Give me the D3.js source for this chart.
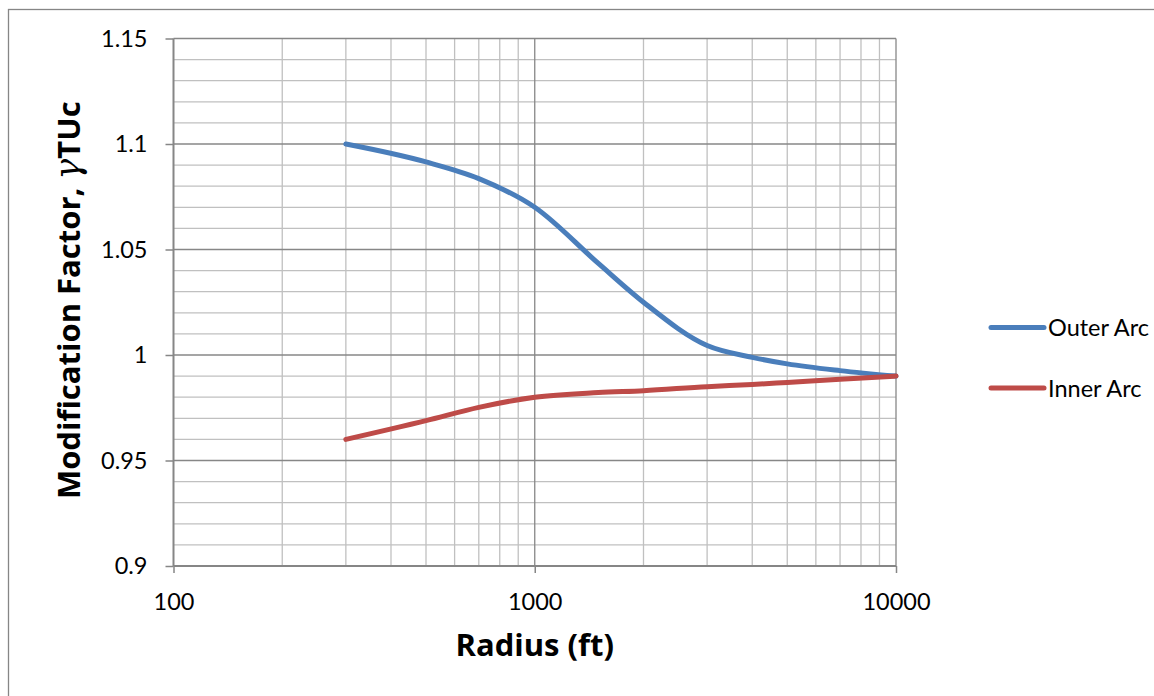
<!DOCTYPE html>
<html>
<head>
<meta charset="utf-8">
<script src="https://cdn.jsdelivr.net/npm/d3@7"></script>
<style>
  html, body { margin: 0; padding: 0; background: #fff; }
  svg { display: block; font-family: Lato, "Open Sans", sans-serif; }
</style>
</head>
<body>
<svg id="chart" width="1154" height="696"></svg>
<script>
// ---- data ----
const radius = [300, 500, 700, 1000, 1500, 2000, 3000, 4000, 5000, 7000, 10000];
const outerArc = [1.100, 1.0915, 1.0836, 1.070, 1.0434, 1.025, 1.0045, 0.9989, 0.9958, 0.9926, 0.990];
const innerArc = [0.960, 0.9689, 0.9752, 0.980, 0.9822, 0.9831, 0.985, 0.986, 0.987, 0.9885, 0.990];
const seriesNames = ["Outer Arc", "Inner Arc"];
const seriesColors = ["#4A7EBB", "#BE4B48"];
const xTickValues = [100, 1000, 10000];
const yTickValues = [0.9, 0.95, 1, 1.05, 1.1, 1.15];
const xTitle = "Radius (ft)";
const yTitleMain = "Modification Factor, ";
const yTitleGreek = "γ";
const yTitleSub = "TUc";

// ---- layout ----
const svg = d3.select("#chart");
const plot = { left: 173.5, right: 896, top: 38.5, bottom: 566 };

const x = d3.scaleLog().domain([100, 10000]).range([plot.left, plot.right]);
const y = d3.scaleLinear().domain([0.9, 1.15]).range([plot.bottom, plot.top]);

// outer chart border
svg.append("rect")
  .attr("x", 8.5).attr("y", 9.5)
  .attr("width", 1154 + 10).attr("height", 696 + 10)
  .attr("fill", "none").attr("stroke", "#868686").attr("stroke-width", 1.3);

const grid = svg.append("g");

// minor horizontal gridlines (every 0.01)
const yMinor = d3.range(0, 26).map(i => +(0.9 + i * 0.01).toFixed(2));
grid.selectAll(".hminor").data(yMinor.filter(v => !yTickValues.some(t => Math.abs(t - v) < 1e-9)))
  .join("line")
  .attr("x1", plot.left).attr("x2", plot.right)
  .attr("y1", d => y(d)).attr("y2", d => y(d))
  .attr("stroke", "#c0c0c0").attr("stroke-width", 1.3);

// minor vertical gridlines
const xMinor = [];
[100, 1000].forEach(dec => { for (let k = 2; k <= 9; k++) xMinor.push(dec * k); });
grid.selectAll(".vminor").data(xMinor).join("line")
  .attr("x1", d => x(d)).attr("x2", d => x(d))
  .attr("y1", plot.top).attr("y2", plot.bottom)
  .attr("stroke", "#c0c0c0").attr("stroke-width", 1.3);

// major gridlines
grid.selectAll(".hmajor").data(yTickValues.filter(v => v !== 0.9)).join("line")
  .attr("x1", plot.left).attr("x2", plot.right)
  .attr("y1", d => y(d)).attr("y2", d => y(d))
  .attr("stroke", "#878787").attr("stroke-width", 1.3);
grid.selectAll(".vmajor").data(xTickValues.filter(v => v !== 100)).join("line")
  .attr("x1", d => x(d)).attr("x2", d => x(d))
  .attr("y1", plot.top).attr("y2", plot.bottom)
  .attr("stroke", "#878787").attr("stroke-width", 1.3);

// axes
const xAxis = d3.axisBottom(x).tickValues(xTickValues).tickFormat(d3.format("d")).tickSize(7).tickPadding(20);
const yAxis = d3.axisLeft(y).tickValues(yTickValues).tickFormat(d => d3.format("")(+d.toFixed(2))).tickSize(8).tickPadding(18);

const gx = svg.append("g").attr("transform", `translate(0,${plot.bottom})`).call(xAxis);
const gy = svg.append("g").attr("transform", `translate(${plot.left},0)`).call(yAxis);
[gx, gy].forEach(g => {
  g.select(".domain").attr("stroke", "#868686").attr("stroke-width", 2);
  g.selectAll(".tick line").attr("stroke", "#868686").attr("stroke-width", 1.5);
  g.selectAll(".tick text").attr("fill", "#000").attr("font-size", 23.5).attr("font-family", "Lato, sans-serif");
});
gx.select(".domain").attr("d", `M${plot.left},0H${plot.right}`);
gy.select(".domain").attr("d", `M0,${plot.bottom}V${plot.top}`);

// lines
const line = d3.line().x(d => x(d[0])).y(d => y(d[1])).curve(d3.curveMonotoneX);
const series = [outerArc, innerArc];
series.forEach((vals, i) => {
  svg.append("path")
    .datum(radius.map((r, j) => [r, vals[j]]))
    .attr("d", line)
    .attr("fill", "none")
    .attr("stroke", seriesColors[i])
    .attr("stroke-width", 5)
    .attr("stroke-linecap", "round")
    .attr("stroke-linejoin", "round");
});

// legend
const legendY = [327.5, 388];
seriesNames.forEach((name, i) => {
  svg.append("line")
    .attr("x1", 991).attr("x2", 1044)
    .attr("y1", legendY[i]).attr("y2", legendY[i])
    .attr("stroke", seriesColors[i]).attr("stroke-width", 5).attr("stroke-linecap", "round");
  svg.append("text")
    .attr("x", 1048).attr("y", legendY[i] + 8.5)
    .attr("font-size", 23.5).attr("fill", "#000")
    .text(name);
});

// axis titles
svg.append("text")
  .attr("x", (plot.left + plot.right) / 2).attr("y", 656)
  .attr("text-anchor", "middle")
  .attr("font-size", 31).attr("font-weight", "bold").attr("fill", "#000")
  .attr("font-family", "'Open Sans', sans-serif")
  .text(xTitle);

const yt = svg.append("text")
  .attr("transform", `translate(80,${(plot.top + plot.bottom) / 2 - 2}) rotate(-90)`)
  .attr("text-anchor", "middle")
  .attr("font-size", 31).attr("font-weight", "bold").attr("fill", "#000")
  .attr("font-family", "'Open Sans', sans-serif");
yt.append("tspan").text(yTitleMain);
yt.append("tspan").attr("font-family", "'DejaVu Serif', serif").attr("font-style", "italic").attr("font-weight", "normal").attr("font-size", 35).text(yTitleGreek);
yt.append("tspan").text(yTitleSub);
</script>
</body>
</html>
